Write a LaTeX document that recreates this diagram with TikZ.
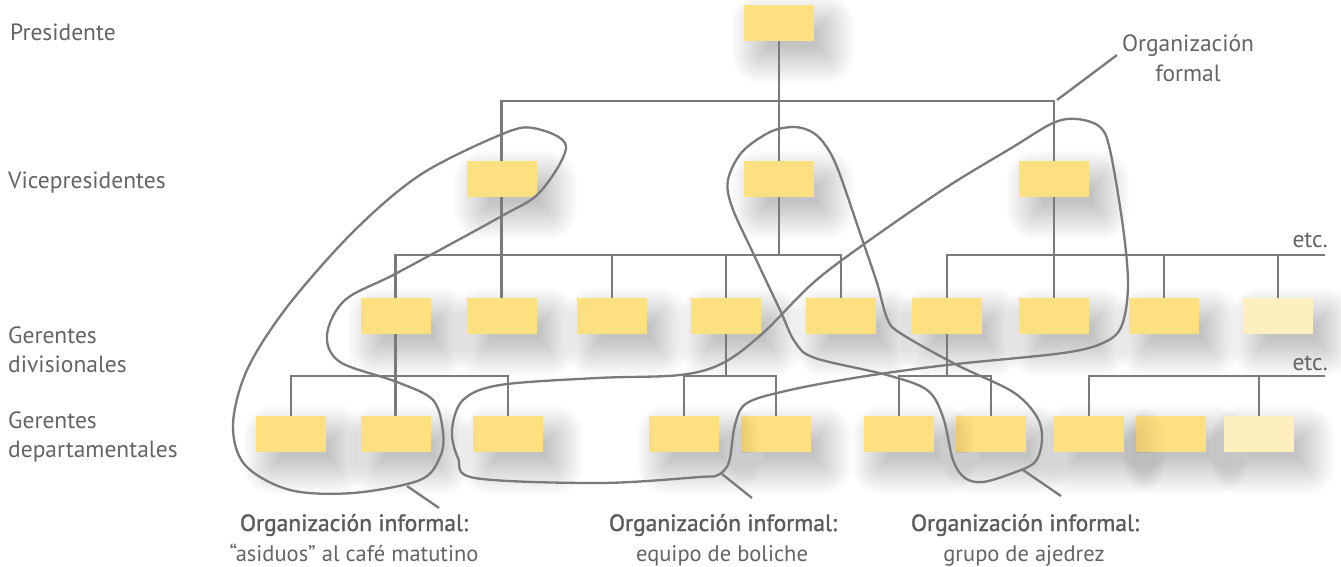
\documentclass[tikz,border=0pt]{standalone}
\usepackage{fontspec}
\setmainfont{PT Sans}
\newfontfamily\semib[FakeBold=1.4]{PT Sans}
\definecolor{boxy}{RGB}{253,224,128}
\definecolor{boxl}{RGB}{253,239,190}
\definecolor{ln}{RGB}{122,122,124}
\definecolor{tx}{RGB}{100,100,104}
\pgfdeclarelayer{bg}
\pgfsetlayers{bg,main}
\newcommand\boxshadow[2][0.014]{%
  \foreach \i in {-4,...,10}{%
    \pgfmathsetmacro\rr{max(2.6*\i+3,0.5)}%
    \fill[black,opacity=#1,rounded corners=\rr pt]
      ([shift={(14-2.6*\i,16-2.6*\i)}]#2.north west) rectangle ([shift={(14+2.6*\i,16+2.6*\i)}]#2.south east);}}
\begin{document}
\begin{tikzpicture}[x=1pt,y=-1pt,
  ybox/.style={minimum width=70pt,minimum height=36pt,inner sep=0pt,fill=boxy},
  lbox/.style={ybox,fill=boxl},
  conn/.style={draw=ln,line width=2.6pt},
  loopline/.style={draw=ln,line width=2.3pt},
  lbl/.style={text=tx,font=\fontsize{23.5}{28}\selectfont,inner sep=0pt},
  sub/.style={text=tx,font=\fontsize{22.5}{28}\selectfont,inner sep=0pt},
  bld/.style={text=tx!92!black,font=\fontsize{23.5}{28}\selectfont\semib,inner sep=0pt},
]
\useasboundingbox (0,0) rectangle (1341,567);
% boxes
\node[ybox] (P) at (779,23) {};
\node[ybox] (V1) at (501.5,179) {};
\node[ybox] (V2) at (779,179) {};
\node[ybox] (V3) at (1054,179) {};
\node[ybox] (D1) at (395.5,316) {};
\node[ybox] (D2) at (501.5,316) {};
\node[ybox] (D3) at (612,316) {};
\node[ybox] (D4) at (726,316) {};
\node[ybox] (D5) at (841,316) {};
\node[ybox] (D6) at (947,316) {};
\node[ybox] (D7) at (1054,316) {};
\node[ybox] (D8) at (1164,316) {};
\node[lbox] (D9) at (1278,316) {};
\node[ybox] (G1) at (291,434) {};
\node[ybox] (G2) at (395.5,434) {};
\node[ybox] (G3) at (508,434) {};
\node[ybox] (G4) at (684,434) {};
\node[ybox] (G5) at (776,434) {};
\node[ybox] (G6) at (899,434) {};
\node[ybox] (G7) at (991,434) {};
\node[ybox] (G8) at (1089,434) {};
\node[ybox] (G9) at (1171,434) {};
\node[lbox] (G10) at (1259,434) {};
% shadows
\begin{pgfonlayer}{bg}
  \fill[white] (0,0) rectangle (1341,567);
  \foreach \n in {P,V1,V2,V3,D1,D2,D3,D4,D5,D6,D7,D8,D9,G1,G2,G3,G4,G5,G6,G7,G8,G9,G10}{\boxshadow{\n}}
\end{pgfonlayer}
\begin{scope}\clip (G5.north west) rectangle (G5.south east); \boxshadow[0.01]{G4}\end{scope}
\begin{scope}\clip (G7.north west) rectangle (G7.south east); \boxshadow[0.01]{G6}\end{scope}
\begin{scope}\clip (G9.north west) rectangle (G9.south east); \boxshadow[0.007]{G8}\end{scope}
% bar levels
\coordinate (b1) at (0,101);
\coordinate (b2) at (0,255);
\coordinate (b3) at (0,376);
\coordinate (e2) at (1325,255);
\coordinate (e3) at (1325,376);
% connectors
\draw[conn] (P.south) -- (V2.north);
\draw[conn] (V1.north) -- (V1.north |- b1) -| (V3.north);
\draw[conn] (V1.south) -- (D2.north);
\draw[conn] (D1.north) -- (D1.north |- b2) -| (D5.north);
\draw[conn] (D3.north) -- (D3.north |- b2);
\draw[conn] (D4.north) -- (D4.north |- b2);
\draw[conn] (V2.south) -- (V2.south |- b2);
\draw[conn] (D6.north) |- (e2);
\draw[conn] (V3.south) -- (D7.north);
\draw[conn] (D8.north) -- (D8.north |- e2);
\draw[conn] (D9.north) -- (D9.north |- e2);
\draw[conn] (D1.south) -- (G2.north);
\draw[conn] (G1.north) -- (G1.north |- b3) -| (G3.north);
\draw[conn] (D4.south) -- (D4.south |- b3);
\draw[conn] (G4.north) -- (G4.north |- b3) -| (G5.north);
\draw[conn] (D6.south) -- (D6.south |- b3);
\draw[conn] (G6.north) -- (G6.north |- b3) -| (G7.north);
\draw[conn] (G8.north) |- (e3);
\draw[conn] (G10.north) -- (G10.north |- e3);
% informal loops
\draw[loopline] plot[smooth cycle,tension=0.55] coordinates {
 (533,128) (566,146) (540,192) (500,217) (397,273) (345,300) (327,335) (340,362) (397,382) (433,400) (443,432) (440,457) (420,480) (353,493) (290,490) (245,465) (233,425) (247,370) (287,307) (353,232) (420,175) (500,135)};
\draw[loopline] plot[smooth cycle,tension=0.55] coordinates {
 (1077,119) (1100,127) (1110,150) (1123,227) (1128,285) (1122,325) (1105,342) (1063,353) (947,365) (860,377) (790,390) (747,403) (735,425) (729,462) (718,475) (700,477) (600,483) (475,478) (458,458) (452,430) (463,400) (500,385) (597,378) (680,375) (723,363) (763,333) (813,283) (867,242) (947,187) (1013,147) (1053,123)};
\draw[loopline] plot[smooth cycle,tension=0.55] coordinates {
 (793,127) (770,132) (742,152) (728,180) (732,207) (753,253) (780,310) (795,342) (815,358) (887,375) (927,390) (943,417) (953,460) (965,478) (983,482) (1013,473) (1035,462) (1042,440) (1037,417) (1013,392) (957,365) (900,333) (887,318) (877,283) (860,233) (837,167) (823,142) (810,131)};
% texts
\node[lbl,anchor=base west] (tPres) at (10,41) {Presidente};
\node[lbl,anchor=base west] (tVice) at (8,188) {Vicepresidentes};
\node[lbl,anchor=base west] (tGd1) at (8,343) {Gerentes};
\node[lbl,anchor=base west] (tGd2) at (8,372) {divisionales};
\node[lbl,anchor=base west] (tGp1) at (8,428) {Gerentes};
\node[lbl,anchor=base west] (tGp2) at (8,457) {departamentales};
\node[lbl,anchor=base] (tF1) at (1188,52) {Organización};
\node[lbl,anchor=base] (tF2) at (1188,82) {formal};
\node[lbl,anchor=base east] (etc1) at (1328,247) {etc.};
\node[lbl,anchor=base east] (etc2) at (1328,370) {etc.};
\node[bld,anchor=base] (tI1a) at (354,531) {Organización informal:};
\node[sub,anchor=base] (tI1b) at (354,561) {“asiduos” al café matutino};
\node[bld,anchor=base] (tI2a) at (723,531) {Organización informal:};
\node[sub,anchor=base] (tI2b) at (722,561) {equipo de boliche};
\node[bld,anchor=base] (tI3a) at (1025,531) {Organización informal:};
\node[sub,anchor=base] (tI3b) at (1024,561) {grupo de ajedrez};
% leaders
\coordinate (lf) at (1057,100);
\coordinate (lf2) at (1117,55);
\coordinate (l1) at (407,486);
\coordinate (l1b) at (439,508);
\coordinate (l2) at (722,474);
\coordinate (l2b) at (752,498);
\coordinate (l3) at (1023,470);
\coordinate (l3b) at (1061,496);
\draw[loopline] (lf) -- (lf2);
\draw[loopline] (l1) -- (l1b);
\draw[loopline] (l2) -- (l2b);
\draw[loopline] (l3) -- (l3b);
\end{tikzpicture}
\end{document}
